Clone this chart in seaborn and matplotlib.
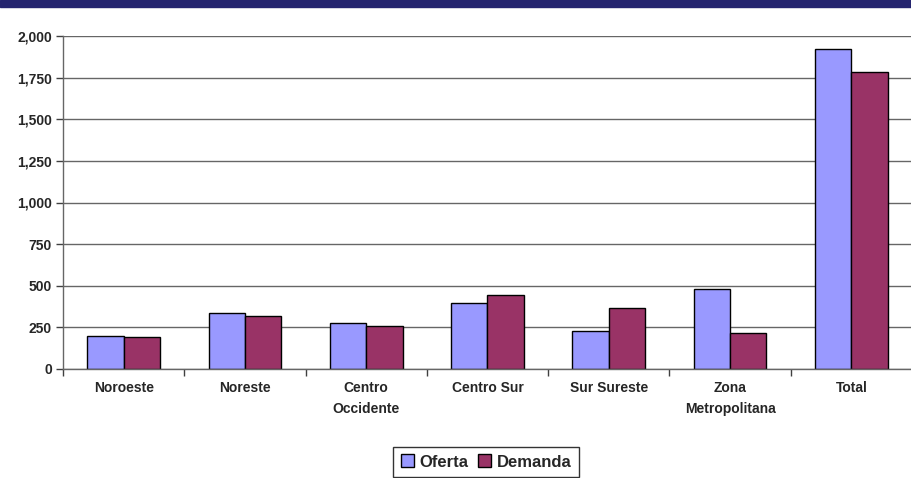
import matplotlib.pyplot as plt
import matplotlib.patches as mpatches
from matplotlib.ticker import FuncFormatter, FixedLocator
import seaborn as sns
import pandas as pd

regiones = ['Noroeste', 'Noreste', 'Centro\nOccidente', 'Centro Sur',
            'Sur Sureste', 'Zona\nMetropolitana', 'Total']
oferta = [198, 337, 277, 394, 230, 480, 1922]
demanda = [190, 319, 259, 446, 368, 214, 1786]

df = pd.DataFrame({
    'region': regiones * 2,
    'valor': oferta + demanda,
    'serie': ['Oferta'] * len(regiones) + ['Demanda'] * len(regiones),
})

sns.set_style('white')
plt.rcParams['font.family'] = ['Liberation Sans', 'DejaVu Sans']
plt.rcParams['font.weight'] = 'bold'

colores = {'Oferta': '#9999FF', 'Demanda': '#993366'}

fig = plt.figure(figsize=(9.12, 4.78), dpi=100)
# franja azul de la parte superior
fig.patches.append(mpatches.Rectangle((0, 1 - 7 / 478), 1, 7 / 478,
                                      transform=fig.transFigure,
                                      color='#25256F', zorder=0))
ax = fig.add_axes([63 / 912, 1 - 369 / 478, 1 - 63 / 912, (369 - 36) / 478])

sns.barplot(data=df, x='region', y='valor', hue='serie', palette=colores,
            width=0.6, edgecolor='black', linewidth=1, saturation=1,
            legend=False, ax=ax)

ax.set_xlim(-0.5, len(regiones) - 0.5)
ax.set_ylim(0, 2000)
ax.yaxis.set_major_locator(FixedLocator(range(0, 2001, 250)))
ax.yaxis.set_major_formatter(FuncFormatter(lambda v, p: f'{int(v):,}'))
ax.grid(axis='y', color='#666666', linewidth=1)
ax.set_axisbelow(True)
ax.set_xlabel('')
ax.set_ylabel('')

for s in ['top', 'right']:
    ax.spines[s].set_visible(False)
for s in ['left', 'bottom']:
    ax.spines[s].set_color('#666666')
    ax.spines[s].set_linewidth(1)

ax.tick_params(axis='y', left=True, length=5, width=1, color='#404040',
               labelsize=10, pad=3)
ax.tick_params(axis='x', which='major', length=0, labelsize=10, pad=9)
ax.set_xticks([i - 0.5 for i in range(len(regiones) + 1)], minor=True)
ax.tick_params(axis='x', which='minor', bottom=True, length=5, width=1,
               color='#404040')
for t in ax.get_yticklabels() + ax.get_xticklabels():
    t.set_fontweight('bold')
for t in ax.get_xticklabels():
    t.set_linespacing(1.6)

handles = [mpatches.Patch(facecolor=colores[k], edgecolor='black', label=k)
           for k in ['Oferta', 'Demanda']]
leg = fig.legend(handles=handles, loc='center', bbox_to_anchor=(486 / 912, 1 - 462 / 478),
                 ncol=2, frameon=True, fancybox=False, handlelength=0.8,
                 handleheight=0.8, handletextpad=0.3, columnspacing=0.6,
                 borderpad=0.45, prop={'weight': 'bold', 'size': 12})
leg.get_frame().set_edgecolor('black')
leg.get_frame().set_linewidth(1)

fig.savefig('out.png', dpi=100)
